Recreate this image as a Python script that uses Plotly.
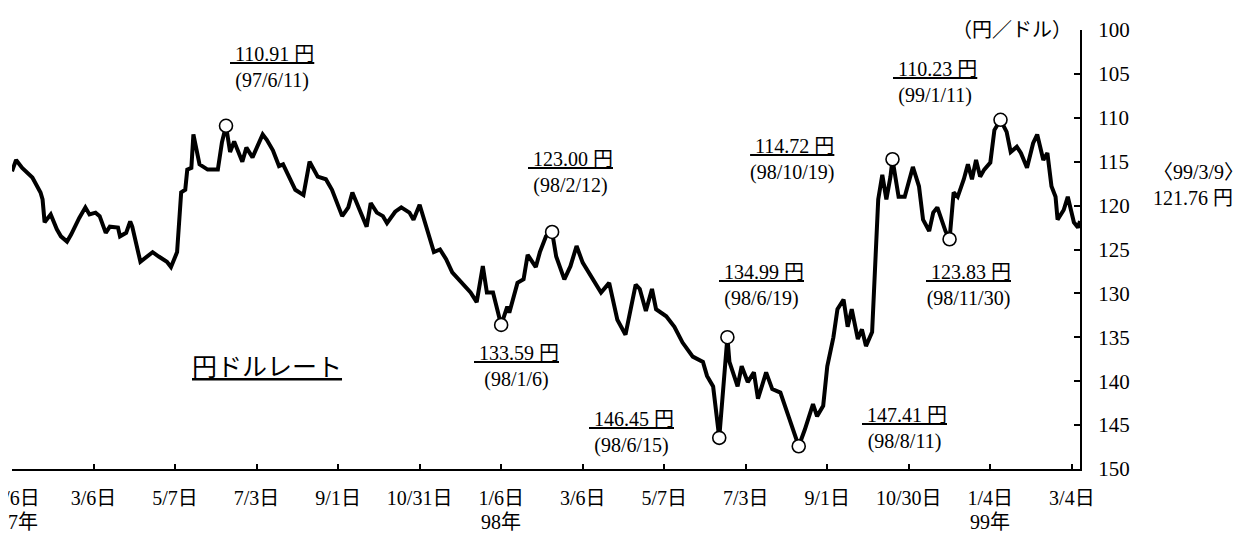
import plotly.graph_objects as go

# 営業日インデックス（97/1/6 = 0）と円ドルレート（円／ドル）
day_idx = [
    0, 2, 5, 10, 14, 15, 16, 19, 22, 24, 27, 29, 33, 36, 38, 41, 43, 46, 48, 52,
    53, 56, 58, 59, 63, 66, 69, 72, 76, 78, 81, 83, 85, 86, 88, 89, 91, 92, 96, 101,
    103, 105, 107, 109, 113, 115, 118, 123, 125, 128, 131, 133, 139, 143, 146, 150, 154, 157, 162, 165,
    167, 170, 174, 176, 179, 182, 184, 188, 191, 195, 197, 200, 204, 207, 210, 213, 216, 221, 225, 228,
    231, 233, 236, 240, 243, 244, 248, 251, 253, 257, 259, 262, 265, 267, 271, 274, 277, 280, 284, 289,
    293, 297, 301, 303, 306, 308, 311, 314, 316, 321, 325, 329, 334, 339, 341, 344, 347, 351, 352, 356,
    358, 361, 364, 366, 370, 373, 377, 381, 383, 386, 389, 393, 395, 398, 400, 403, 405, 408, 410, 412,
    415, 417, 419, 422, 425, 427, 429, 431, 432, 435, 438, 442, 445, 447, 450, 452, 454, 456, 458, 460,
    462, 464, 467, 469, 471, 473, 475, 477, 480, 482, 485, 488, 490, 493, 495, 498, 501, 503, 506, 508,
    510, 512, 513, 516, 518, 521, 523, 524,
]
yen_rate = [
    116.1, 114.8, 115.7, 116.8, 118.5, 119.3, 121.9, 121.0, 122.7, 123.5, 124.1, 123.3, 121.4, 120.2, 121.0, 120.8, 121.2, 123.1, 122.4, 122.5,
    123.5, 123.1, 121.8, 122.4, 126.4, 125.9, 125.3, 125.8, 126.4, 127.0, 125.3, 118.5, 118.2, 115.9, 115.7, 111.9, 114.4, 115.3, 115.9, 115.9,
    112.8, 110.91, 113.9, 112.7, 115.0, 113.4, 114.5, 111.9, 112.5, 113.7, 115.5, 115.3, 118.2, 118.8, 115.0, 116.7, 117.0, 118.2, 121.2, 120.2,
    118.5, 120.1, 122.4, 119.7, 120.8, 121.2, 122.0, 120.7, 120.2, 120.8, 121.6, 119.9, 123.1, 125.3, 125.0, 126.1, 127.6, 128.8, 129.9, 131.0,
    126.9, 129.9, 129.9, 133.59, 131.5, 132.2, 128.8, 128.4, 125.6, 127.0, 125.3, 123.5, 123.00, 125.8, 128.4, 126.9, 124.6, 126.5, 128.1, 129.9,
    128.8, 133.0, 134.7, 132.6, 129.0, 129.5, 132.0, 129.5, 131.8, 132.6, 133.8, 135.6, 137.2, 137.8, 139.4, 140.6, 146.45, 134.99, 137.8, 140.6,
    138.3, 140.1, 139.0, 142.0, 139.0, 140.9, 141.3, 144.0, 145.5, 147.41, 145.5, 142.6, 144.0, 142.8, 138.3, 135.0, 131.8, 130.7, 133.8, 131.8,
    135.2, 134.1, 136.0, 134.4, 119.3, 116.5, 119.3, 116.7, 114.72, 119.0, 119.0, 115.6, 117.8, 121.6, 122.9, 120.8, 120.2, 121.6, 122.9, 123.83,
    118.5, 119.0, 117.0, 115.3, 117.0, 114.8, 116.7, 115.9, 115.1, 111.4, 110.23, 111.6, 113.9, 113.3, 114.0, 115.7, 112.9, 111.9, 114.8, 114.0,
    117.8, 119.0, 121.6, 120.5, 119.0, 121.9, 122.5, 121.76,
]

# 高値・安値の記録
peak_idx = [105, 240, 265, 347, 351, 386, 432, 460, 485]
peak_val = [110.91, 133.59, 123.00, 146.45, 134.99, 147.41, 114.72, 123.83, 110.23]
peak_date = ["97/6/11", "98/1/6", "98/2/12", "98/6/15", "98/6/19", "98/8/11", "98/10/19", "98/11/30", "99/1/11"]

last_date = "99/3/9"

tick_idx = [0, 40, 80, 120, 160, 200, 240, 280, 320, 360, 400, 440, 480, 520]
tick_text = ["1/6日", "3/6日", "5/7日", "7/3日", "9/1日", "10/31日", "1/6日",
             "3/6日", "5/7日", "7/3日", "9/1日", "10/30日", "1/4日", "3/4日"]
year_idx = [0, 240, 480]
year_text = ["97年", "98年", "99年"]

y_ticks = [100, 105, 110, 115, 120, 125, 130, 135, 140, 145, 150]

FONT = "Liberation Serif, Noto Sans CJK JP, serif"
CJK = "Noto Sans CJK JP, sans-serif"

# ラベルの位置（マーカーからのピクセルずれ）
label_shift = [(46, 58), (15, -42), (18, 59), (-88, 5), (34, 52),
               (106, 18), (-100, 0), (19, -46), (-66, 37)]

fig = go.Figure()
fig.add_trace(go.Scatter(
    x=day_idx, y=yen_rate, mode="lines",
    line=dict(color="black", width=4), hoverinfo="skip",
))
fig.add_trace(go.Scatter(
    x=peak_idx, y=peak_val, mode="markers",
    marker=dict(symbol="circle", size=13, color="white",
                line=dict(color="black", width=1.6)),
    hoverinfo="skip",
))

for i, v, d, (dx, dy) in zip(peak_idx, peak_val, peak_date, label_shift):
    fig.add_annotation(
        x=i, y=v, xref="x", yref="y", showarrow=False,
        text=f"<u>\u00a0{v:.2f} 円</u><br>({d})",
        xshift=dx, yshift=dy, align="center",
        font=dict(family=FONT, size=20, color="black"),
    )

# 左端の年ラベルは元図と同じく少し右寄せ（左端で切れる）
for k, (i, t) in enumerate(zip(year_idx, year_text)):
    fig.add_annotation(
        x=i, y=0, xref="x", yref="paper", showarrow=False,
        text=t, yshift=-53, xshift=6 if k == 0 else 0,
        xanchor="center", yanchor="middle",
        font=dict(family=FONT, size=20, color="black"),
    )

fig.add_annotation(
    x=day_idx[-1], y=yen_rate[-1], xref="x", yref="y", showarrow=False,
    text=f"〈{last_date}〉<br>{yen_rate[-1]:.2f} 円", align="left",
    xanchor="left", xshift=71, yshift=36,
    font=dict(family=FONT, size=20, color="black"),
)
fig.add_annotation(
    x=0.986, y=1, xref="paper", yref="paper", showarrow=False,
    text="（円／ドル）", xanchor="right", yanchor="middle",
    xshift=9, yshift=2,
    font=dict(family=CJK, size=20, color="black"),
)
fig.add_annotation(
    x=0.2388, y=0.2369, xref="paper", yref="paper", showarrow=False,
    text="<u>円ドルレート</u>", xanchor="center", yanchor="middle",
    font=dict(family=CJK, size=25, color="black"),
)

shown_ticks = ["\u00a0\u00a0" + tick_text[0]] + tick_text[1:]

# ページ本体の余白 8px を見込んで図を少し小さくする
fig.update_layout(
    width=1248, height=532,
    margin=dict(l=4, r=176, t=22, b=71),
    paper_bgcolor="white", plot_bgcolor="white",
    showlegend=False,
    font=dict(family=FONT, size=20, color="black"),
    xaxis=dict(
        range=[0, 524], tickvals=tick_idx, ticktext=shown_ticks,
        showline=True, linecolor="black", linewidth=2,
        ticks="inside", ticklen=5, tickwidth=2, tickcolor="black",
        showgrid=False, zeroline=False, ticklabelstandoff=10,
        ticklabeloverflow="allow", automargin=False,
        tickfont=dict(family=FONT, size=20, color="black"),
    ),
    yaxis=dict(
        range=[150, 100], side="right", tickvals=y_ticks,
        showline=True, linecolor="black", linewidth=2,
        ticks="inside", ticklen=6, tickwidth=2, tickcolor="black",
        showgrid=False, zeroline=False, ticklabelstandoff=12,
        automargin=False,
        tickfont=dict(family=FONT, size=21, color="black"),
    ),
)

fig.write_html("out.html")
